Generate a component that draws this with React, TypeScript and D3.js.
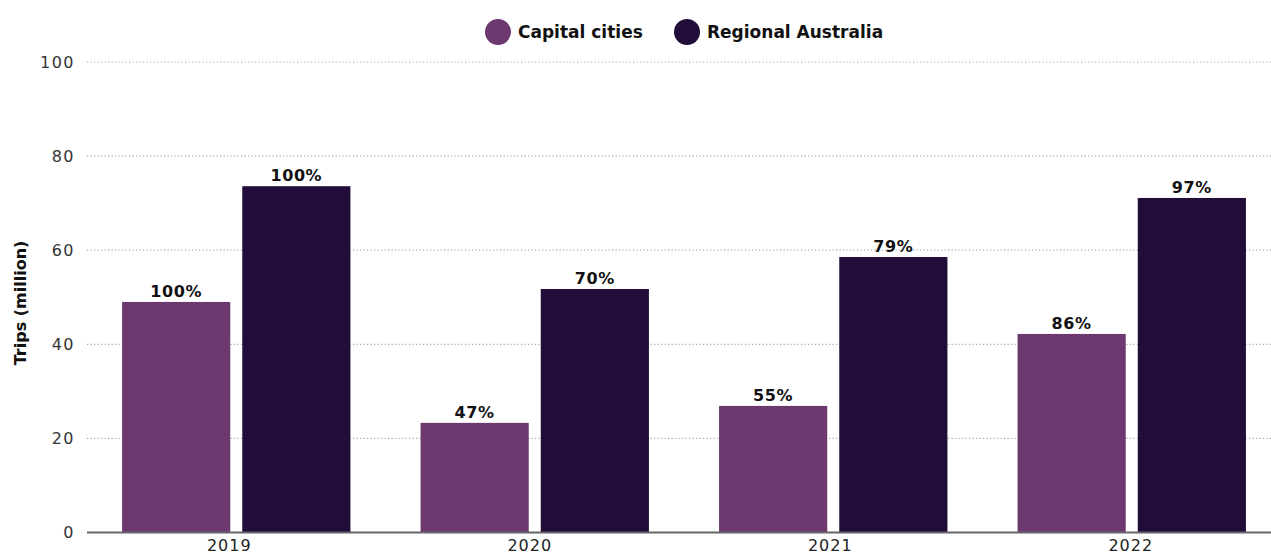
import { useMemo } from "react";
import * as d3 from "d3";

const years = ["2019", "2020", "2021", "2022"];
const seriesNames = ["Capital cities", "Regional Australia"];
const capitalTrips = [49.0, 23.3, 26.9, 42.2];
const regionalTrips = [73.6, 51.75, 58.55, 71.1];
const capitalPct = ["100%", "47%", "55%", "86%"];
const regionalPct = ["100%", "70%", "79%", "97%"];
const yTicks = [0, 20, 40, 60, 80, 100];
const colors = ["#6D3770", "#220C3A"];

const width = 1271;
const height = 557;
const font = "'DejaVu Sans', 'Noto Sans', sans-serif";

export default function App() {
    const left = 87;
    const plotRight = 1281; // plot area runs a bit past the visible edge
    const zeroY = 532.5;
    const topY = 62;

    const x0 = useMemo(() => d3.scaleBand<string>().domain(years).range([left, plotRight]).paddingInner(0.235).paddingOuter(0.1175), []);
    // tick labels sit on a slightly wider band than the bar groups
    const xLabel = useMemo(() => d3.scaleBand<string>().domain(years).range([79, plotRight]), []);
    const x1 = useMemo(() => d3.scaleBand<string>().domain(seriesNames).range([0, x0.bandwidth()]).paddingInner(0.1), [x0]);
    const y = useMemo(() => d3.scaleLinear().domain([0, 100]).range([zeroY, topY]), []);

    const rows = years.map((yr, i) => ({
        year: yr,
        values: [
            { name: seriesNames[0], v: capitalTrips[i], pct: capitalPct[i], color: colors[0] },
            { name: seriesNames[1], v: regionalTrips[i], pct: regionalPct[i], color: colors[1] },
        ],
    }));

    return (
        <svg width={width} height={height} style={{ position: "absolute", left: 0, top: 0, background: "#fff" }}>
            {/* grid */}
            <g>
                {yTicks.map((t) => (
                    <g key={`g-${t}`}>
                        {t > 0 && (
                            <line x1={left} x2={width} y1={y(t)} y2={y(t)} stroke="#aaa" strokeWidth={1.2} strokeDasharray="1.2 2.3" />
                        )}
                        <text x={75} y={y(t)} dy="0.36em" textAnchor="end" fontFamily={font} fontSize={16} fill="#333" style={{ letterSpacing: "1.5px" }}>
                            {t}
                        </text>
                    </g>
                ))}
            </g>

            {/* bars */}
            {rows.map((r) => (
                <g key={r.year} transform={`translate(${x0(r.year)},0)`}>
                    {r.values.map((d) => (
                        <g key={d.name}>
                            <rect x={x1(d.name)} y={y(d.v)} width={x1.bandwidth()} height={zeroY - y(d.v)} fill={d.color} />
                            <text x={(x1(d.name) ?? 0) + x1.bandwidth() / 2} y={y(d.v) - 5} textAnchor="middle" fontFamily={font} fontSize={16} fontWeight="bold" fill="#111" style={{ letterSpacing: "0.6px" }}>
                                {d.pct}
                            </text>
                        </g>
                    ))}
                </g>
            ))}

            {/* x axis */}
            <line x1={left} x2={width} y1={zeroY} y2={zeroY} stroke="#666" strokeWidth={2} />
            {years.map((yr) => (
                <text key={`xl-${yr}`} x={(xLabel(yr) ?? 0) + xLabel.bandwidth() / 2} y={551} textAnchor="middle" fontFamily={font} fontSize={16} fill="#222" style={{ letterSpacing: "1px" }}>
                    {yr}
                </text>
            ))}

            {/* y title */}
            <text transform={`translate(26,303) rotate(-90)`} textAnchor="middle" fontFamily={font} fontSize={16} fontWeight="bold" fill="#111">
                Trips (million)
            </text>

            {/* legend */}
            <g>
                <circle cx={498} cy={32} r={13} fill={colors[0]} />
                <text x={518} y={32} dy="0.36em" fontFamily={font} fontSize={17} fontWeight="bold" fill="#111">{seriesNames[0]}</text>
                <circle cx={687} cy={32} r={13} fill={colors[1]} />
                <text x={707} y={32} dy="0.36em" fontFamily={font} fontSize={17} fontWeight="bold" fill="#111">{seriesNames[1]}</text>
            </g>
        </svg>
    );
}
